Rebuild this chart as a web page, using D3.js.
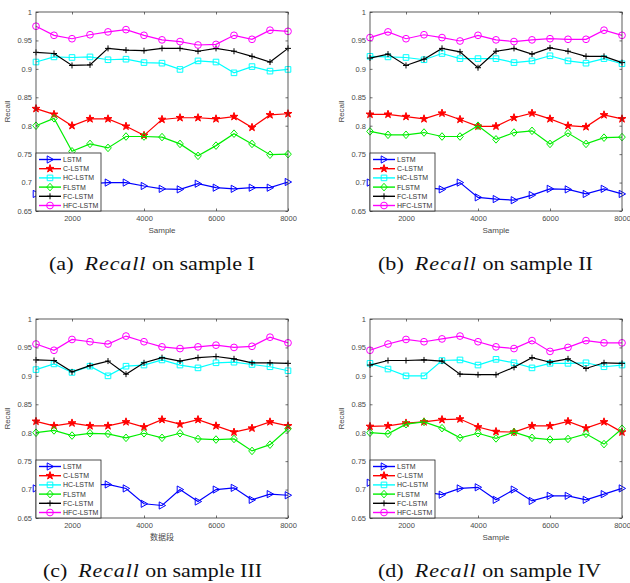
<!DOCTYPE html>
<html><head><meta charset="utf-8">
<script src="https://cdn.jsdelivr.net/npm/d3@7"></script>
<style>body{margin:0;background:#fff}svg{display:block}</style>
</head><body>
<svg id="c" width="630" height="583"></svg>
<script>
const xValues = [1000,1500,2000,2500,3000,3500,4000,4500,5000,5500,6000,6500,7000,7500,8000];
const xTicks = [2000,4000,6000,8000];
const yTicks = [0.65,0.7,0.75,0.8,0.85,0.9,0.95,1];
const yTickLabels = ["0.65","0.7","0.75","0.8","0.85","0.9","0.95","1"];
const seriesNames = ["LSTM","C-LSTM","HC-LSTM","FLSTM","FC-LSTM","HFC-LSTM"];
const seriesColors = ["#0000ff","#ff0000","#00ffff","#00ee00","#000000","#ff00ff"];
const seriesMarkers = ["triRight","star","square","diamond","plus","circle"];

// order: LSTM, C-LSTM, HC-LSTM, FLSTM, FC-LSTM, HFC-LSTM
const sampleI_LSTM = [0.680,0.690,0.696,0.698,0.700,0.700,0.694,0.689,0.688,0.698,0.691,0.689,0.691,0.691,0.701];
const sampleI_CLSTM = [0.830,0.820,0.800,0.812,0.812,0.799,0.783,0.811,0.814,0.814,0.812,0.816,0.797,0.819,0.821];
const sampleI_HCLSTM = [0.912,0.921,0.920,0.921,0.916,0.917,0.911,0.910,0.899,0.914,0.912,0.893,0.904,0.896,0.899];
const sampleI_FLSTM = [0.800,0.813,0.755,0.768,0.761,0.781,0.781,0.780,0.768,0.747,0.765,0.786,0.768,0.749,0.750];
const sampleI_FCLSTM = [0.929,0.927,0.906,0.907,0.936,0.933,0.932,0.936,0.936,0.931,0.936,0.931,0.922,0.912,0.936];
const sampleI_HFCLSTM = [0.975,0.959,0.953,0.960,0.965,0.969,0.959,0.951,0.948,0.942,0.943,0.959,0.952,0.968,0.966];

const sampleII_LSTM = [0.700,0.697,0.695,0.692,0.688,0.700,0.674,0.671,0.669,0.678,0.689,0.688,0.680,0.689,0.680];
const sampleII_CLSTM = [0.820,0.820,0.816,0.812,0.822,0.811,0.799,0.799,0.814,0.822,0.812,0.800,0.798,0.819,0.812];
const sampleII_HCLSTM = [0.922,0.921,0.920,0.916,0.927,0.918,0.918,0.918,0.911,0.914,0.923,0.914,0.910,0.918,0.909];
const sampleII_FLSTM = [0.790,0.784,0.784,0.788,0.781,0.781,0.800,0.776,0.788,0.791,0.768,0.787,0.768,0.779,0.780];
const sampleII_FCLSTM = [0.919,0.926,0.906,0.917,0.936,0.930,0.902,0.931,0.936,0.926,0.937,0.931,0.922,0.922,0.911];
const sampleII_HFCLSTM = [0.955,0.965,0.953,0.960,0.955,0.949,0.959,0.951,0.948,0.951,0.953,0.952,0.952,0.968,0.959];

const sampleIII_LSTM = [0.702,0.705,0.708,0.708,0.709,0.702,0.675,0.672,0.700,0.679,0.700,0.703,0.682,0.692,0.690];
const sampleIII_CLSTM = [0.820,0.812,0.817,0.812,0.812,0.819,0.810,0.823,0.815,0.823,0.812,0.801,0.808,0.819,0.812];
const sampleIII_HCLSTM = [0.911,0.921,0.906,0.917,0.900,0.917,0.919,0.928,0.919,0.914,0.923,0.924,0.920,0.916,0.909];
const sampleIII_FLSTM = [0.800,0.804,0.795,0.799,0.798,0.791,0.799,0.791,0.799,0.789,0.788,0.789,0.768,0.779,0.807];
const sampleIII_FCLSTM = [0.928,0.927,0.907,0.918,0.926,0.903,0.923,0.932,0.926,0.932,0.934,0.930,0.923,0.923,0.922];
const sampleIII_HFCLSTM = [0.956,0.945,0.964,0.960,0.956,0.970,0.960,0.951,0.948,0.951,0.954,0.950,0.952,0.968,0.958];

const sampleIV_LSTM = [0.712,0.705,0.700,0.696,0.691,0.702,0.704,0.682,0.700,0.680,0.689,0.689,0.682,0.692,0.702];
const sampleIV_CLSTM = [0.811,0.812,0.817,0.819,0.823,0.824,0.810,0.802,0.801,0.812,0.812,0.820,0.808,0.819,0.801];
const sampleIV_HCLSTM = [0.922,0.912,0.900,0.900,0.927,0.928,0.919,0.929,0.923,0.914,0.922,0.922,0.923,0.916,0.919];
const sampleIV_FLSTM = [0.800,0.798,0.815,0.819,0.808,0.791,0.799,0.790,0.801,0.791,0.788,0.789,0.798,0.780,0.807];
const sampleIV_FCLSTM = [0.919,0.927,0.927,0.928,0.926,0.903,0.902,0.902,0.915,0.932,0.924,0.930,0.913,0.923,0.922];
const sampleIV_HFCLSTM = [0.945,0.956,0.964,0.960,0.965,0.970,0.960,0.951,0.948,0.962,0.943,0.950,0.962,0.958,0.958];

const panelLetters = ["a","b","c","d"];
const panelSamples = ["I","II","III","IV"];
const panelXLabels = ["Sample","Sample","数据段","Sample"];
const panelData = [
  [sampleI_LSTM,sampleI_CLSTM,sampleI_HCLSTM,sampleI_FLSTM,sampleI_FCLSTM,sampleI_HFCLSTM],
  [sampleII_LSTM,sampleII_CLSTM,sampleII_HCLSTM,sampleII_FLSTM,sampleII_FCLSTM,sampleII_HFCLSTM],
  [sampleIII_LSTM,sampleIII_CLSTM,sampleIII_HCLSTM,sampleIII_FLSTM,sampleIII_FCLSTM,sampleIII_HFCLSTM],
  [sampleIV_LSTM,sampleIV_CLSTM,sampleIV_HCLSTM,sampleIV_FLSTM,sampleIV_FCLSTM,sampleIV_HFCLSTM]
];

const svg = d3.select("#c");
const boxes = [
  {x0:36,x1:288,y0:12,y1:211, capL:49, capR:255, capY:270},
  {x0:370,x1:622,y0:12,y1:211, capL:378, capR:593, capY:270},
  {x0:36,x1:288,y0:319,y1:518, capL:43, capR:262, capY:577},
  {x0:370,x1:622,y0:319,y1:518, capL:378, capR:601, capY:577}
];

function markerPath(type){
  switch(type){
    case "triRight": return "M-2.8,-3.6L3.6,0L-2.8,3.6Z";
    case "square": return "M-2.8,-2.8H2.8V2.8H-2.8Z";
    case "diamond": return "M0,-3.8L3.3,0L0,3.8L-3.3,0Z";
    case "plus": return "M-3,0H3M0,-3V3";
    case "circle": return d3.symbol(d3.symbolCircle, 36)();
    case "star": return d3.symbol(d3.symbolStar, 19)();
  }
}

const tickFont = "Liberation Sans, Arial, sans-serif";
const tickColor = "#4a4a4a";

panelData.forEach((series, pi) => {
  const b = boxes[pi];
  const x = d3.scaleLinear().domain([1000,8000]).range([b.x0,b.x1]);
  const y = d3.scaleLinear().domain([0.65,1]).range([b.y1,b.y0]);
  const g = svg.append("g");

  const axL = d3.axisLeft(y).tickValues(yTicks).tickFormat((d,i)=>yTickLabels[i]).tickSizeInner(-2.5).tickSizeOuter(0).tickPadding(4);
  const axR = d3.axisRight(y).tickValues(yTicks).tickFormat("").tickSizeInner(-2.5).tickSizeOuter(0);
  const axB = d3.axisBottom(x).tickValues(xTicks).tickFormat(d3.format("d")).tickSizeInner(-2.5).tickSizeOuter(0).tickPadding(5);
  const axT = d3.axisTop(x).tickValues(xTicks).tickFormat("").tickSizeInner(-2.5).tickSizeOuter(0);
  [[axL,`translate(${b.x0},0)`],[axR,`translate(${b.x1},0)`],[axB,`translate(0,${b.y1})`],[axT,`translate(0,${b.y0})`]].forEach(([ax,tr])=>{
    const a = g.append("g").attr("transform",tr).call(ax);
    a.select(".domain").remove();
    a.selectAll("line").attr("stroke","#333").attr("stroke-width",0.7);
    a.selectAll("text").attr("font-family",tickFont).attr("font-size",7.5).attr("fill",tickColor);
  });

  const clip = "clip"+pi;
  svg.append("clipPath").attr("id",clip).append("rect").attr("x",b.x0-6).attr("y",b.y0-6).attr("width",b.x1-b.x0+12).attr("height",b.y1-b.y0+12);
  const plot = g.append("g").attr("clip-path",`url(#${clip})`);
  const line = d3.line().x((d,i)=>x(xValues[i])).y(d=>y(d));
  series.forEach((vals, si) => {
    const col = seriesColors[si];
    plot.append("path").attr("d",line(vals)).attr("fill","none").attr("stroke",col).attr("stroke-width",1.2);
    const filled = seriesMarkers[si]==="star";
    plot.selectAll(null).data(vals).enter().append("path")
      .attr("transform",(d,i)=>`translate(${x(xValues[i])},${y(d)})`)
      .attr("d",markerPath(seriesMarkers[si]))
      .attr("fill",filled?col:"none").attr("stroke",col).attr("stroke-width",1);
  });

  g.append("rect").attr("x",b.x0).attr("y",b.y0).attr("width",b.x1-b.x0).attr("height",b.y1-b.y0)
    .attr("fill","none").attr("stroke","#333").attr("stroke-width",0.8);

  const lg = g.append("g").attr("transform",`translate(${b.x0},${b.y1-58})`);
  lg.append("rect").attr("x",0).attr("y",0).attr("width",65).attr("height",58).attr("fill","#fff").attr("stroke","#222").attr("stroke-width",0.8);
  seriesNames.forEach((nm, si) => {
    const yy = 6.5 + si*9.2;
    const col = seriesColors[si];
    lg.append("line").attr("x1",3).attr("x2",25).attr("y1",yy).attr("y2",yy).attr("stroke",col).attr("stroke-width",1.4);
    lg.append("path").attr("transform",`translate(14,${yy})`).attr("d",markerPath(seriesMarkers[si]))
      .attr("fill",seriesMarkers[si]==="star"?col:"none").attr("stroke",col).attr("stroke-width",1);
    lg.append("text").attr("x",27).attr("y",yy).attr("dy","0.35em").attr("font-family",tickFont).attr("font-size",7)
      .attr("fill","#333").text(nm);
  });

  svg.append("text").attr("transform",`translate(${b.x0-26},${(b.y0+b.y1)/2}) rotate(-90)`).attr("text-anchor","middle")
    .attr("font-family",tickFont).attr("font-size",8).attr("fill",tickColor).text("Recall");
  svg.append("text").attr("x",(b.x0+b.x1)/2).attr("y",b.y1+22).attr("text-anchor","middle")
    .attr("font-family", pi===2 ? "Noto Sans CJK SC, sans-serif" : tickFont).attr("font-size",8).attr("fill",tickColor).text(panelXLabels[pi]);

  const cap = svg.append("text").attr("x",0).attr("y",0)
    .attr("font-family","Liberation Serif, Times New Roman, serif").attr("font-size",19).attr("fill","#111");
  cap.append("tspan").text(`(${panelLetters[pi]})\u2002`);
  cap.append("tspan").attr("font-style","italic").attr("letter-spacing",0.8).text("Recall");
  cap.append("tspan").text(` on sample ${panelSamples[pi]}`);
  const w = cap.node().getComputedTextLength();
  const sx = (b.capR - b.capL) / w;
  cap.attr("transform",`translate(${b.capL},${b.capY}) scale(${sx},1)`);
});
</script>
</body></html>
